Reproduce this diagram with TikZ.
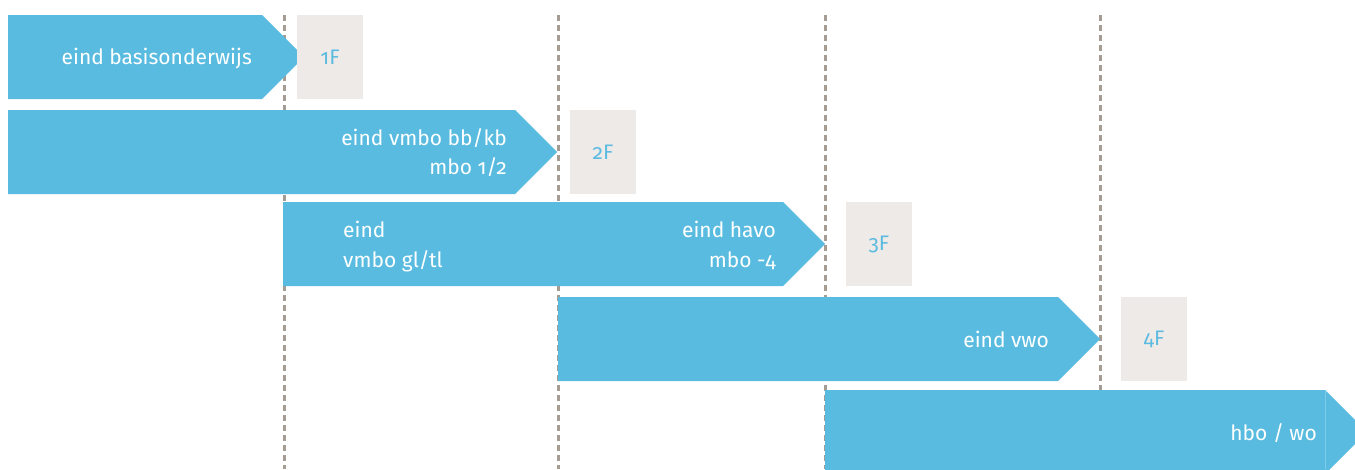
\documentclass[tikz,border=0pt]{standalone}
\usepackage{fontspec}
\setmainfont{Fira Sans}[Numbers=OldStyle]
\definecolor{arrowblue}{HTML}{58BBDF}
\definecolor{seam}{HTML}{7CCBE8}
\definecolor{levelbg}{HTML}{EEEAE7}
\definecolor{levelfg}{HTML}{5CBBE0}
\definecolor{guide}{HTML}{A59C94}
\tikzset{
  stage/.style={fill=arrowblue, draw=none},
  lbl/.style={text=white, font=\fontsize{21}{26}\selectfont, inner sep=0pt},
  levelbox/.style={fill=levelbg, draw=none, minimum width=66pt, minimum height=84pt,
    inner sep=0pt, text=levelfg, font=\fontsize{21}{26}\selectfont},
  guideline/.style={draw=guide, line width=3pt, dash pattern=on 6pt off 4pt},
}
% pentagon arrow: left x, end of body x, top y (height 84, tip 42)
\newcommand\stagearrow[3]{%
  \fill[stage] (#1,#3) -- (#2,#3) -- (#2+42,#3+42) -- (#2,#3+84) -- (#1,#3+84) -- cycle;}
\begin{document}
\begin{tikzpicture}[x=1pt, y=-1pt]
  \useasboundingbox (0,0) rectangle (1355,469);
  \clip (0,0) rectangle (1355,469);

  % level boundaries
  \coordinate (g1t) at (284,15);  \coordinate (g1b) at (284,469);
  \coordinate (g2t) at (558,15);  \coordinate (g2b) at (558,469);
  \coordinate (g3t) at (825,15);  \coordinate (g3b) at (825,469);
  \coordinate (g4t) at (1100,15); \coordinate (g4b) at (1100,469);
  \draw[guideline] (g1t) -- (g1b);
  \draw[guideline] (g2t) -- (g2b);
  \draw[guideline] (g3t) -- (g3b);
  \draw[guideline] (g4t) -- (g4b);

  % school stages
  \stagearrow{8}{262}{15}
  \stagearrow{8}{515}{110}
  \stagearrow{283}{783}{202}
  \stagearrow{558}{1058}{297}
  \stagearrow{825}{1325}{390}
  \draw[seam, line width=1pt] (1325,390) -- (1325,469);

  % stage labels
  \node[lbl, anchor=base east] (s1) at (252,64) {eind basisonderwijs};
  \node[lbl, anchor=base east] (s2a) at (507,145) {eind vmbo bb/kb};
  \node[lbl, anchor=base east] (s2b) at (507,174) {mbo 1/2};
  \node[lbl, anchor=base west] (s3a) at (343,237) {eind};
  \node[lbl, anchor=base west] (s3b) at (343,267) {vmbo gl/tl};
  \node[lbl, anchor=base east] (s3c) at (776,237) {eind havo};
  \node[lbl, anchor=base east] (s3d) at (776,267) {mbo -4};
  \node[lbl, anchor=base east] (s4) at (1049,347) {eind vwo};
  \node[lbl, anchor=base east] (s5) at (1317,440) {hbo / wo};

  % reference levels
  \node[levelbox] (f1) at (330,57) {1F};
  \node[levelbox] (f2) at (603,152) {2F};
  \node[levelbox] (f3) at (879,244) {3F};
  \node[levelbox] (f4) at (1154,339) {4F};
\end{tikzpicture}
\end{document}
